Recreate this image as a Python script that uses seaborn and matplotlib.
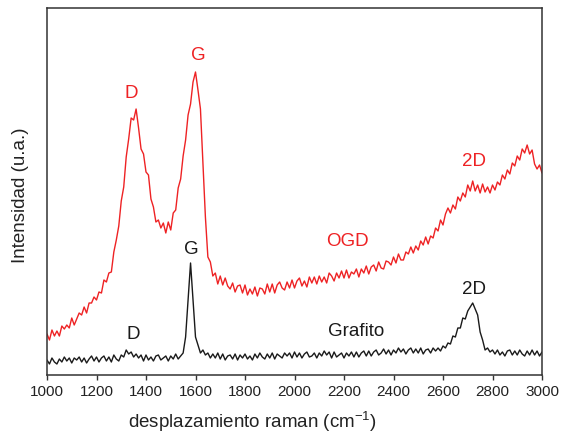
import numpy as np
import pandas as pd
import matplotlib
matplotlib.use("Agg")
import matplotlib.pyplot as plt
import seaborn as sns

# Raman shift grid (cm^-1), 10 cm^-1 steps
wavenumber = np.arange(1000, 3001, 10)

# OGD spectrum (arbitrary units)
ogd = [
    41, 35, 45, 39, 44, 39, 49, 46, 50, 47,
    57, 50, 56, 62, 60, 68, 62, 72, 72, 78,
    75, 83, 82, 95, 93, 102, 103, 123, 135, 149,
    174, 188, 218, 236, 257, 255, 266, 247, 226, 221,
    203, 200, 176, 168, 153, 155, 147, 152, 142, 153,
    145, 162, 165, 187, 196, 219, 235, 260, 271, 293,
    303, 285, 266, 213, 158, 118, 113, 99, 102, 91,
    99, 90, 97, 89, 86, 92, 83, 89, 90, 82,
    90, 80, 86, 81, 88, 79, 87, 86, 81, 91,
    83, 91, 82, 90, 93, 87, 85, 93, 87, 95,
    87, 94, 97, 89, 94, 88, 98, 92, 98, 91,
    99, 93, 98, 92, 102, 99, 94, 102, 97, 104,
    97, 105, 97, 103, 101, 106, 98, 106, 102, 109,
    101, 108, 110, 104, 113, 107, 106, 114, 113, 110,
    118, 112, 121, 115, 115, 123, 121, 128, 122, 129,
    125, 134, 130, 138, 131, 139, 137, 147, 144, 155,
    150, 161, 167, 162, 170, 166, 178, 174, 182, 178,
    190, 184, 194, 184, 190, 182, 191, 183, 188, 182,
    190, 185, 193, 190, 200, 196, 205, 201, 212, 209,
    219, 215, 226, 222, 230, 221, 225, 211, 206, 210, 202,
]

# Grafito spectrum (arbitrary units)
grafito = [
    15, 11, 17, 13, 11, 16, 13, 18, 14, 17,
    12, 17, 15, 18, 13, 17, 12, 16, 19, 14,
    18, 13, 17, 19, 14, 18, 13, 20, 16, 14,
    20, 18, 25, 21, 23, 18, 21, 17, 20, 14,
    20, 15, 18, 14, 19, 20, 15, 17, 19, 14,
    19, 16, 21, 16, 19, 22, 38, 75, 112, 75,
    38, 30, 22, 25, 20, 22, 17, 21, 17, 22,
    16, 21, 15, 19, 20, 16, 21, 15, 20, 17,
    21, 16, 19, 15, 21, 17, 22, 18, 16, 21,
    17, 22, 16, 21, 19, 17, 22, 19, 22, 17,
    23, 18, 22, 17, 21, 23, 18, 19, 22, 17,
    22, 19, 24, 20, 23, 17, 23, 18, 20, 22,
    17, 22, 19, 23, 18, 23, 18, 22, 24, 19,
    24, 19, 23, 25, 20, 22, 26, 21, 25, 20,
    25, 22, 27, 23, 26, 21, 25, 27, 22, 26,
    22, 27, 21, 25, 26, 22, 27, 24, 27, 24,
    29, 27, 32, 31, 39, 38, 47, 47, 57, 56,
    64, 68, 72, 66, 60, 43, 35, 25, 27, 23,
    25, 21, 25, 20, 23, 19, 24, 25, 20, 24,
    20, 25, 21, 19, 24, 20, 25, 20, 24, 19, 23,
]

series_names = ["OGD", "Grafito"]
series_colors = ["#ee2224", "#1a1a1a"]
xtick_values = [1000, 1200, 1400, 1600, 1800, 2000, 2200, 2400, 2600, 2800, 3000]

# Peak labels: (text, x, y, series index)
peak_labels = [
    ("D", 1339, 282, 0),
    ("G", 1610, 320, 0),
    ("2D", 2725, 213, 0),
    ("OGD", 2212, 134, 0),
    ("D", 1347, 41, 1),
    ("G", 1584, 126, 1),
    ("2D", 2725, 85, 1),
    ("Grafito", 2248, 44, 1),
]

sns.set_style("ticks")
plt.rcParams["font.family"] = ["Liberation Sans", "DejaVu Sans"]
plt.rcParams["mathtext.fontset"] = "custom"
plt.rcParams["mathtext.rm"] = "Liberation Sans"
plt.rcParams["mathtext.it"] = "Liberation Sans"
plt.rcParams["mathtext.default"] = "rm"

df = pd.DataFrame({
    "shift": np.concatenate([wavenumber, wavenumber]),
    "intensity": np.concatenate([ogd, grafito]),
    "sample": [series_names[0]] * len(wavenumber) + [series_names[1]] * len(wavenumber),
})

fig = plt.figure(figsize=(5.61, 4.36), dpi=100)
ax = fig.add_axes([47 / 561, 1 - 375 / 436, (542 - 47) / 561, (375 - 8) / 436])

sns.lineplot(data=df, x="shift", y="intensity", hue="sample",
             palette=dict(zip(series_names, series_colors)),
             linewidth=1.0, legend=False, ax=ax, estimator=None)

for txt, x, y, si in peak_labels:
    ax.text(x, y, txt, color=series_colors[si], fontsize=13.5,
            ha="center", va="center")

ax.set_xlim(1000, 3000)
ax.set_ylim(0, 367)
ax.set_xticks(xtick_values)
ax.set_xticklabels([str(v) for v in xtick_values], fontsize=11)
ax.set_yticks([])
ax.tick_params(axis="x", direction="out", length=3.5, width=1, pad=4,
               colors="#333333", labelcolor="#222222")

for s in ax.spines.values():
    s.set_visible(True)
    s.set_linewidth(1.1)
    s.set_color("#333333")

ax.set_xlabel("desplazamiento raman (cm$^{-1}$)", fontsize=13.5, color="#222222")
ax.xaxis.set_label_coords(0.416, -0.145)
ax.xaxis.label.set_va("baseline")
ax.set_ylabel("Intensidad (u.a.)", fontsize=13.5, color="#222222")
ax.yaxis.set_label_coords(-0.037, 0.49)

fig.savefig("out.png", dpi=100)
